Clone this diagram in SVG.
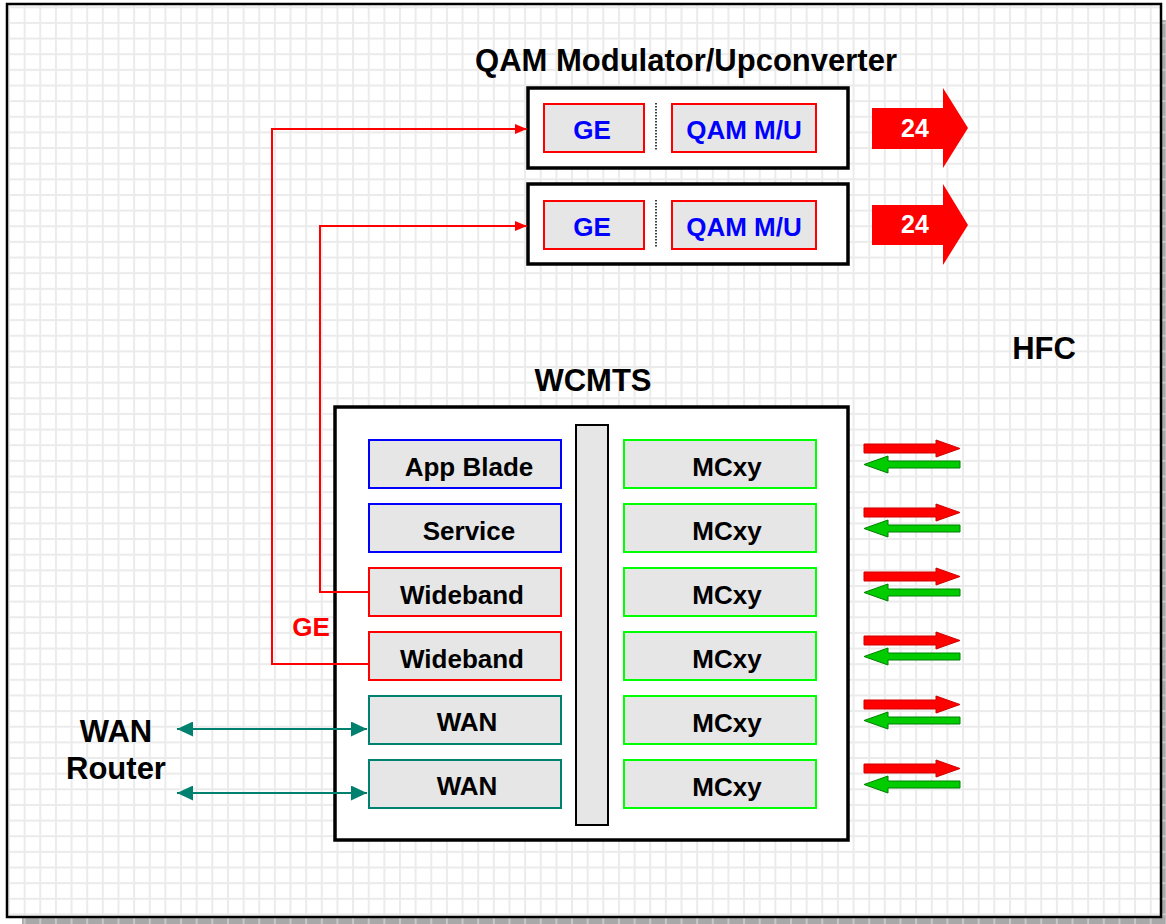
<svg xmlns="http://www.w3.org/2000/svg" width="1166" height="924" viewBox="0 0 1166 924">
<defs>
<style>
.t{font-family:"Liberation Sans",Arial,sans-serif;font-weight:bold;}
.big{font-size:31px;fill:#000;}
.lbl{font-size:26px;fill:#000;text-anchor:middle;}
.blu{font-size:26px;fill:#0000ff;text-anchor:middle;}
.box{fill:#e6e6e6;stroke-width:2;}
.outer{fill:#fff;stroke:#000;stroke-width:3.5;}
.red{stroke:#ff0000;}
.blue{stroke:#0000ff;}
.green{stroke:#00ff00;}
.teal{stroke:#00806e;}
.conn{fill:none;stroke-width:2;}
</style>
<pattern id="grid" patternUnits="userSpaceOnUse" x="8" y="6.3" width="15.64" height="15.64">
<rect width="15.64" height="15.64" fill="#fff"/>
<rect width="2" height="15.64" fill="#ebebeb"/>
<rect width="15.64" height="2" fill="#ebebeb"/>
</pattern>
<pattern id="shad" patternUnits="userSpaceOnUse" width="15.64" height="15.64" x="8" y="6.3">
<rect width="15.64" height="15.64" fill="#a8a8a8"/>
<rect width="2" height="15.64" fill="#c8c8c8"/>
<rect width="15.64" height="2" fill="#c8c8c8"/>
</pattern>
<marker id="ar" viewBox="0 0 12 10" refX="12" refY="5" markerWidth="12" markerHeight="10" markerUnits="userSpaceOnUse" orient="auto">
<path d="M0,0 L12,5 L0,10 Z" fill="#ff0000"/>
</marker>
<marker id="at" viewBox="0 0 16 15" refX="16" refY="7.5" markerWidth="16" markerHeight="15" markerUnits="userSpaceOnUse" orient="auto-start-reverse">
<path d="M0,0 L16,7.5 L0,15 Z" fill="#00806e"/>
</marker>
<g id="ra"><path d="M864,444 L936,444 L936,440 L960,448.5 L936,457 L936,453 L864,453 Z" fill="#ff0000" stroke="#d00000" stroke-width="1"/></g>
<g id="ga"><path d="M960,461 L888,461 L888,456 L864,464.5 L888,473 L888,468 L960,468 Z" fill="#00cc00" stroke="#008000" stroke-width="1"/></g>
</defs>

<rect x="0" y="0" width="1166" height="924" fill="#fff"/>
<rect x="1161" y="20" width="5" height="904" fill="url(#shad)"/>
<rect x="22" y="917" width="1144" height="7" fill="url(#shad)"/>
<rect x="7" y="4" width="1154" height="913" fill="url(#grid)" stroke="#000" stroke-width="2.5"/>

<g id="title-qam"><text class="t big" x="686" y="71" text-anchor="middle" font-size="32.5">QAM Modulator/Upconverter</text></g>
<g id="title-wcmts"><text class="t big" x="593" y="391" text-anchor="middle">WCMTS</text></g>
<g id="label-hfc"><text class="t big" x="1044" y="359" text-anchor="middle">HFC</text></g>
<g id="label-wan-router">
<text class="t big" x="116" y="742" text-anchor="middle">WAN</text>
<text class="t big" x="116" y="779" text-anchor="middle">Router</text>
</g>

<g id="qam1">
<rect class="outer" x="528" y="88" width="320" height="80"/>
<rect class="box red" x="544" y="104" width="100" height="48"/>
<text class="t blu" x="592" y="139">GE</text>
<line x1="656" y1="103" x2="656" y2="150" stroke="#000" stroke-width="1.5" stroke-dasharray="1.5 1.5"/>
<rect class="box red" x="672" y="104" width="144" height="48"/>
<text class="t blu" x="744" y="139">QAM M/U</text>
</g>
<g id="qam2">
<rect class="outer" x="528" y="184" width="320" height="80"/>
<rect class="box red" x="544" y="201" width="100" height="48"/>
<text class="t blu" x="592" y="236">GE</text>
<line x1="656" y1="200" x2="656" y2="247" stroke="#000" stroke-width="1.5" stroke-dasharray="1.5 1.5"/>
<rect class="box red" x="672" y="201" width="144" height="48"/>
<text class="t blu" x="744" y="236">QAM M/U</text>
</g>
<g id="out24-1">
<path d="M872,108 L943,108 L943,88 L968,128 L943,168 L943,149 L872,149 Z" fill="#ff0000"/>
<text class="t" x="915" y="137" font-size="25" fill="#fff" text-anchor="middle">24</text>
</g>
<g id="out24-2">
<path d="M872,205 L943,205 L943,184 L968,225 L943,265 L943,245 L872,245 Z" fill="#ff0000"/>
<text class="t" x="915" y="233" font-size="25" fill="#fff" text-anchor="middle">24</text>
</g>

<g id="wcmts">
<rect class="outer" x="335" y="407" width="513" height="433"/>
<rect x="576" y="425" width="32" height="400" fill="#e6e6e6" stroke="#000" stroke-width="2"/>
</g>
<g id="app-blade"><rect class="box blue" x="369" y="440" width="192" height="48"/><text class="t lbl" x="469" y="476">App Blade</text></g>
<g id="service"><rect class="box blue" x="369" y="504" width="192" height="48"/><text class="t lbl" x="469" y="540">Service</text></g>
<g id="wideband1"><rect class="box red" x="369" y="568" width="192" height="48"/><text class="t lbl" x="462" y="604">Wideband</text></g>
<g id="wideband2"><rect class="box red" x="369" y="632" width="192" height="48"/><text class="t lbl" x="462" y="668">Wideband</text></g>
<g id="wan1"><rect class="box teal" x="369" y="696" width="192" height="48"/><text class="t lbl" x="467" y="731">WAN</text></g>
<g id="wan2"><rect class="box teal" x="369" y="760" width="192" height="48"/><text class="t lbl" x="467" y="795">WAN</text></g>
<g id="mc1"><rect class="box green" x="624" y="440" width="192" height="48"/><text class="t lbl" x="727" y="476">MCxy</text></g>
<g id="mc2"><rect class="box green" x="624" y="504" width="192" height="48"/><text class="t lbl" x="727" y="540">MCxy</text></g>
<g id="mc3"><rect class="box green" x="624" y="568" width="192" height="48"/><text class="t lbl" x="727" y="604">MCxy</text></g>
<g id="mc4"><rect class="box green" x="624" y="632" width="192" height="48"/><text class="t lbl" x="727" y="668">MCxy</text></g>
<g id="mc5"><rect class="box green" x="624" y="696" width="192" height="48"/><text class="t lbl" x="727" y="732">MCxy</text></g>
<g id="mc6"><rect class="box green" x="624" y="760" width="192" height="48"/><text class="t lbl" x="727" y="796">MCxy</text></g>

<g id="connectors">
<polyline class="conn red" points="369,664 272,664 272,129 527,129" marker-end="url(#ar)"/>
<polyline class="conn red" points="369,592 320,592 320,226 527,226" marker-end="url(#ar)"/>
<text class="t" x="311" y="636" font-size="26" fill="#ff0000" text-anchor="middle">GE</text>
<line class="conn teal" x1="177" y1="729" x2="367" y2="729" marker-start="url(#at)" marker-end="url(#at)"/>
<line class="conn teal" x1="177" y1="793" x2="367" y2="793" marker-start="url(#at)" marker-end="url(#at)"/>
<use href="#ra"/><use href="#ga"/>
<use href="#ra" y="64"/><use href="#ga" y="64"/>
<use href="#ra" y="128"/><use href="#ga" y="128"/>
<use href="#ra" y="192"/><use href="#ga" y="192"/>
<use href="#ra" y="256"/><use href="#ga" y="256"/>
<use href="#ra" y="320"/><use href="#ga" y="320"/>
</g>
</svg>
